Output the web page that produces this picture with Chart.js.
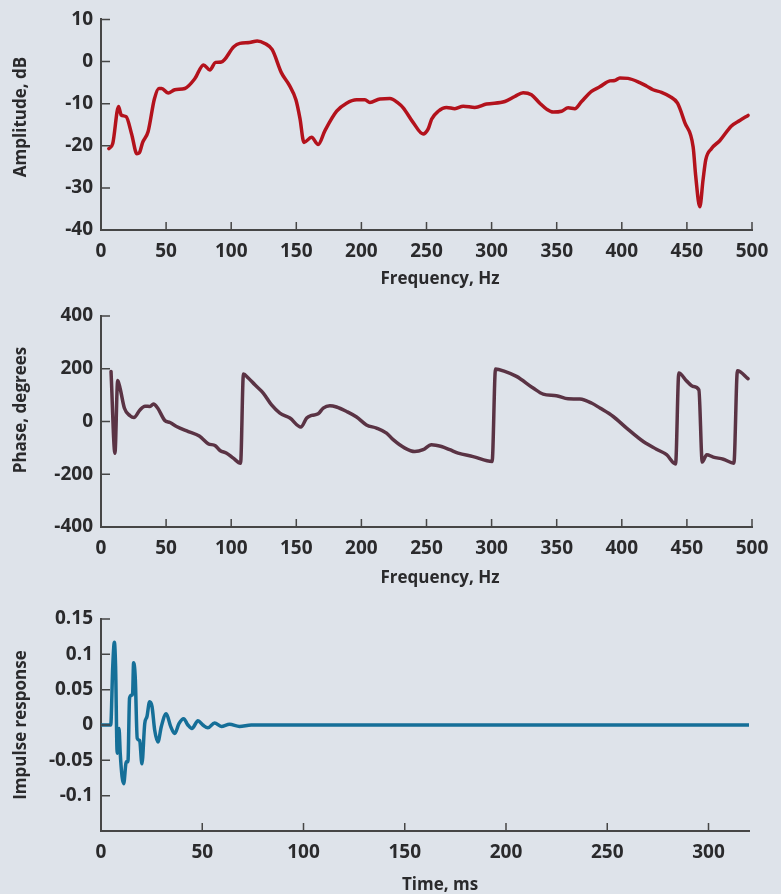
<!DOCTYPE html>
<html>
<head>
<meta charset="utf-8">
<script src="https://cdn.jsdelivr.net/npm/chart.js@4.4.1/dist/chart.umd.min.js"></script>
<style>
  html, body { margin: 0; padding: 0; background: #dee3ea; }
  .panel { position: relative; width: 781px; }
  canvas { display: block; }
</style>
</head>
<body>
<div class="panel" style="height:290px"><canvas id="amp"></canvas></div>
<div class="panel" style="height:300px"><canvas id="phase"></canvas></div>
<div class="panel" style="height:304px"><canvas id="impulse"></canvas></div>
<script>
// amplitude response
const ampFreq = [6, 9, 13.5, 15.5, 19.3, 23.5, 27.6, 29.4, 32, 36.2, 41, 44.5, 46.6, 51.6, 56.7, 64.4, 72, 78.7, 83.6, 88, 92.5,
  102, 106.6, 114, 120, 125.8, 131.5, 138.6, 144.6, 149.7, 152.8, 155.9, 161.7, 166.8, 172, 181, 188.6, 196.3, 202.7, 206.5,
  214.2, 221.9, 228.3, 232.1, 239.8, 247.4, 251.3, 253.9, 259, 265.4, 271.8, 278.2, 287.1, 296.1, 310.2, 317.8, 324.2, 330.6,
  337, 342.2, 347.3, 353.7, 358.8, 363.9, 369.1, 376.7, 383.1, 390.8, 394.6, 398.5, 404.8, 413.8, 418.9, 424, 430.5, 436.9,
  442.8, 448.4, 454.8, 456.8, 459.9, 462.4, 464.5, 468.8, 475.2, 484.2, 490.6, 497];
const ampDb = [-20.7, -19.5, -10.7, -12.7, -13.1, -17.2, -21.9, -21.7, -19.2, -16.6, -8.9, -6.4, -6.4, -7.5, -6.7, -6.4, -4.1, -0.8,
  -2, -0.2, -0.1, 3.5, 4.3, 4.5, 4.9, 4.3, 2.8, -2.7, -5.6, -9.1, -13.5, -19.2, -18, -19.7, -16.4, -11.8, -9.9, -9.1, -9.1, -9.7,
  -8.9, -8.8, -9.9, -11, -14.5, -17.2, -16, -13.7, -11.8, -10.9, -11.2, -10.6, -10.9, -10.1, -9.5, -8.3, -7.4, -7.9,
  -9.9, -11.3, -12, -11.8, -11, -11.2, -9.5, -7.1, -6, -4.6, -4.5, -3.9, -4, -5, -5.8, -6.7, -7.3, -8.3,
  -9.9, -14.5, -20.3, -27.3, -34.5, -28.1, -23.3, -20.7, -18.8, -15.3, -14, -12.8];

// phase response
const phaseFreq = [7.7, 10.7, 12.8, 14.6, 18, 22.3, 25.3, 29.9, 33.8, 37.6, 40.3, 43.5, 49, 53, 58, 67.1, 75.5, 82.3, 87.8, 91.4,
  96.5, 101.6, 107.2, 109.4, 113.1, 118.2, 124.6, 131, 137.4, 145.1, 153.5, 158, 161.8, 166.8, 170.7, 175.8, 180.9, 188.6,
  196.3, 203.9, 211.6, 219.3, 224.4, 233.4, 241, 247.4, 253.8, 261.5, 267.9, 274.3, 285.8, 300.4, 303, 310.1, 319.1, 331.9,
  339.6, 349.8, 358.8, 367.8, 376.7, 383.2, 393.4, 403.7, 416.5, 426.6, 434.4, 441.3, 443.8, 449.7, 454.8, 459.2, 461.8,
  465.2, 470.3, 478, 486.1, 488.8, 497];
const phaseDeg = [190, -120, 155, 127, 50, 22, 15, 44, 58, 57, 66, 51, 4, -4, -19, -38, -55, -84, -92, -110,
  -120, -139, -158, 180, 165, 139, 108, 63, 32, 13, -21, 13, 23, 29, 51, 60, 55, 38,
  17, -13, -25, -44, -69, -101, -114, -107, -88, -95, -107, -120, -133, -152, 199, 190, 171, 127,
  104, 98, 86, 85, 70, 51, 19, -25, -76, -105, -126, -161, 184, 154, 133, 120, -154,
  -126, -135, -143, -158, 192, 162];

// impulse response
const impTime = [0, 4.8, 5.8, 6.6, 7.2, 8.0, 8.9, 9.5, 10.4, 11.2, 12.5, 13.3, 14.1, 15, 15.6, 16.1, 16.9, 17.9, 19.1, 20.2,
  21.6, 22.7, 24, 25.2, 26.5, 28.1, 29.8, 32.2, 34.4, 36.4, 38.5, 40.8, 42.9, 44.9, 47.9, 50.3, 52.8, 56.1, 59.4, 63.5,
  68.4, 74.2, 320];
const impValue = [0, 0, 0.083, 0.117, 0.083, -0.04, -0.005, -0.04, -0.073, -0.083, -0.052, -0.052, 0.038, 0.042, 0.044, 0.088,
  0.068, -0.019, -0.022, -0.055, 0.002, 0.012, 0.033, 0.026, -0.007, -0.024, -0.002, 0.016, -0.002, -0.012, 0.002, 0.009,
  0, -0.005, 0.006, 0, -0.004, 0.003, -0.002, 0.001, -0.002, 0, 0];

const axisColor = '#464646';
const textColor = '#2a2a2c';

Chart.defaults.font.family = "'Open Sans', sans-serif";
Chart.defaults.font.weight = 700;
Chart.defaults.font.size = 19;
Chart.defaults.color = textColor;

// tick marks point into the plot, titles sit where the figure has them
const axisDecor = {
  id: 'axisDecor',
  afterDraw(chart, args, opts) {
    const { ctx, chartArea: a, scales: { x, y } } = chart;
    ctx.save();
    ctx.strokeStyle = axisColor;
    ctx.lineWidth = 1.5;
    ctx.beginPath();
    x.ticks.forEach(t => {
      if (t.value === x.min) return;
      const px = x.getPixelForValue(t.value);
      ctx.moveTo(px, a.bottom);
      ctx.lineTo(px, a.bottom - 8);
    });
    y.ticks.forEach(t => {
      if (t.value === y.min) return;
      const py = y.getPixelForValue(t.value);
      ctx.moveTo(a.left, py);
      ctx.lineTo(a.left + 9, py);
    });
    ctx.stroke();

    ctx.fillStyle = textColor;
    ctx.font = "700 17px 'Open Sans', sans-serif";
    ctx.textAlign = 'center';
    ctx.textBaseline = 'middle';
    ctx.fillText(opts.xTitle, opts.xAt[0], opts.xAt[1]);
    ctx.translate(opts.yAt[0], opts.yAt[1]);
    ctx.rotate(-Math.PI / 2);
    ctx.fillText(opts.yTitle, 0, 0);
    ctx.restore();
  }
};

function fmt(v) {
  return String(Math.round(v * 1000) / 1000);
}

function makeChart(id, xs, ys, cfg) {
  return new Chart(document.getElementById(id), {
    type: 'line',
    data: {
      datasets: [{
        data: xs.map((v, i) => ({ x: v, y: ys[i] })),
        borderColor: cfg.color,
        borderWidth: 3.5,
        borderJoinStyle: 'round',
        borderCapStyle: 'round',
        pointRadius: 0,
        cubicInterpolationMode: 'monotone',
        fill: false
      }]
    },
    options: {
      responsive: true,
      maintainAspectRatio: false,
      animation: false,
      events: [],
      layout: { padding: { top: cfg.top, right: cfg.right, left: 0, bottom: 0 } },
      plugins: {
        legend: { display: false },
        tooltip: { enabled: false },
        axisDecor: cfg.titles
      },
      scales: {
        x: {
          type: 'linear',
          min: cfg.xMin, max: cfg.xMax,
          grid: { display: false, drawTicks: false },
          border: { display: true, color: axisColor, width: 2 },
          afterFit: s => { s.height = cfg.xHeight; },
          ticks: {
            stepSize: cfg.xStep, includeBounds: false, padding: 10,
            maxRotation: 0, autoSkip: false, callback: v => fmt(v)
          }
        },
        y: {
          type: 'linear',
          min: cfg.yMin, max: cfg.yMax,
          grid: { display: false, drawTicks: false },
          border: { display: true, color: axisColor, width: 2 },
          afterFit: s => { s.width = 101; },
          ticks: {
            stepSize: cfg.yStep, padding: 8, autoSkip: false,
            callback: v => (cfg.yHide.includes(Math.round(v * 1000) / 1000) ? '' : fmt(v))
          }
        }
      }
    },
    plugins: [axisDecor]
  });
}

makeChart('amp', ampFreq, ampDb, {
  color: '#b3121c', top: 16, right: 29, xHeight: 60,
  xMin: 0, xMax: 500, xStep: 50, yMin: -40, yMax: 10, yStep: 10, yHide: [],
  titles: { xTitle: 'Frequency, Hz', yTitle: 'Amplitude, dB', xAt: [440, 279], yAt: [21, 117] }
});

makeChart('phase', phaseFreq, phaseDeg, {
  color: '#5a3344', top: 26, right: 29, xHeight: 63,
  xMin: 0, xMax: 500, xStep: 50, yMin: -400, yMax: 400, yStep: 200, yHide: [],
  titles: { xTitle: 'Frequency, Hz', yTitle: 'Phase, degrees', xAt: [440, 288], yAt: [21, 120] }
});

makeChart('impulse', impTime, impValue, {
  color: '#156f98', top: 29, right: 32, xHeight: 63,
  xMin: 0, xMax: 320, xStep: 50, yMin: -0.15, yMax: 0.15, yStep: 0.05, yHide: [-0.15],
  titles: { xTitle: 'Time, ms', yTitle: 'Impulse response', xAt: [440, 295], yAt: [21, 135] }
});
</script>
</body>
</html>
